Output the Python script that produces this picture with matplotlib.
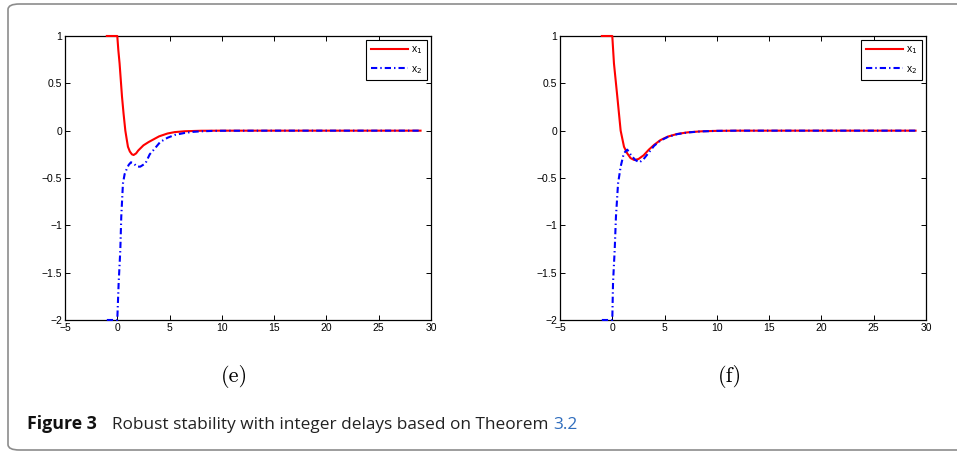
import matplotlib.pyplot as plt
from matplotlib.patches import FancyBboxPatch

plt.rcParams['font.family'] = ['Liberation Sans', 'DejaVu Sans']
plt.rcParams['lines.scale_dashes'] = False

# (e) 数据
t_e_x1 = [-1, 0, 0.1, 0.22, 0.45, 0.6, 0.77, 0.9, 1.02, 1.2, 1.4, 1.56, 1.8, 2.0, 2.5,
          3.0, 3.5, 4.0, 4.8, 5.5, 6.5, 8, 10, 15, 20, 25, 29]
e_x1 = [1, 1, 0.85, 0.71, 0.36, 0.18, 0.0, -0.09, -0.17, -0.22, -0.25, -0.257, -0.24, -0.21, -0.155,
        -0.12, -0.09, -0.06, -0.03, -0.015, -0.006, -0.001, 0, 0, 0, 0, 0]
t_e_x2 = [-1, 0, 0.13, 0.29, 0.38, 0.54, 0.7, 0.92, 1.1, 1.31, 1.6, 1.88, 2.2, 2.7,
          3.1, 3.5, 4.1, 4.8, 5.5, 6.4, 7.2, 8, 9, 10, 15, 20, 25, 29]
e_x2 = [-2, -2, -1.61, -1.26, -0.91, -0.56, -0.46, -0.40, -0.36, -0.334, -0.35, -0.38, -0.38, -0.345,
        -0.25, -0.2, -0.12, -0.075, -0.045, -0.025, -0.013, -0.007, -0.003, -0.001, 0, 0, 0, 0]

# (f) 数据
t_f_x1 = [-1, 0, 0.16, 0.48, 0.8, 1.12, 1.43, 1.75, 2.1, 2.5, 3.0, 3.5, 4.0, 4.6, 5.3,
          6.2, 7.2, 8.5, 10, 12, 15, 20, 25, 29]
f_x1 = [1, 1, 0.71, 0.36, 0.0, -0.17, -0.24, -0.29, -0.31, -0.30, -0.26, -0.2, -0.15, -0.1, -0.063,
        -0.035, -0.018, -0.007, -0.002, 0, 0, 0, 0, 0]
t_f_x2 = [-1, 0, 0.07, 0.23, 0.35, 0.55, 0.8, 1.1, 1.43, 1.8, 2.2, 2.6, 3.0, 3.5, 4.0, 4.6,
          5.3, 6.2, 7.2, 8.5, 10, 12, 15, 20, 25, 29]
f_x2 = [-2, -2, -1.61, -1.26, -0.91, -0.56, -0.38, -0.24, -0.2, -0.26, -0.31, -0.335, -0.3, -0.23, -0.16, -0.105,
        -0.067, -0.037, -0.019, -0.008, -0.002, 0, 0, 0, 0, 0]

xticks = [-5, 0, 5, 10, 15, 20, 25, 30]
yticks = [-2, -1.5, -1, -0.5, 0, 0.5, 1]
ytick_labels = ['\u22122', '\u22121.5', '\u22121', '\u22120.5', '0', '0.5', '1']
xtick_labels = ['\u22125', '0', '5', '10', '15', '20', '25', '30']

fig = plt.figure(figsize=(9.57, 4.54), dpi=100)

# 外框
border = FancyBboxPatch((8 / 957, 4 / 454), 1.2, 446 / 454,
                        boxstyle='round,pad=0,rounding_size=0.012',
                        transform=fig.transFigure, fill=False,
                        edgecolor='#8c8c8c', linewidth=1.2, clip_on=False)
fig.patches.append(border)

panels = [
    (65, (t_e_x1, e_x1, t_e_x2, e_x2), '(e)', 234),
    (560, (t_f_x1, f_x1, t_f_x2, f_x2), '(f)', 730),
]

for left, (t1, y1, t2, y2), tag, tag_x in panels:
    ax = fig.add_axes([left / 957, 134 / 454, 366 / 957, 284 / 454])
    ax.plot(t1, y1, color='red', lw=1.5, label=r'x$_1$', clip_on=False, zorder=3)
    ax.plot(t2, y2, color='blue', lw=1.5, linestyle=(0, (4.5, 2.2, 1, 2.2)), label=r'x$_2$',
            clip_on=False, zorder=3)
    ax.set_xlim(-5, 30)
    ax.set_ylim(-2, 1)
    ax.set_xticks(xticks)
    ax.set_xticklabels(xtick_labels)
    ax.set_yticks(yticks)
    ax.set_yticklabels(ytick_labels)
    ax.tick_params(direction='in', top=True, right=True, length=3.5, width=0.7,
                   labelsize=7.5, pad=2)
    for s in ax.spines.values():
        s.set_linewidth(0.9)
    leg = ax.legend(loc='upper right', fontsize=7.5, fancybox=False, edgecolor='black',
                    framealpha=1, handlelength=3.6, handletextpad=0.3, borderpad=0.45,
                    labelspacing=0.75, borderaxespad=0.35)
    leg.set_zorder(5)
    leg.get_frame().set_linewidth(0.8)
    fig.text(tag_x / 957, 1 - 377 / 454, tag, family='cmr10', fontsize=16,
             ha='center', va='center')

# 图注
y_cap = 1 - 429 / 454
fig.text(27 / 957, y_cap, 'Figure 3', family=['Open Sans', 'DejaVu Sans'],
         fontweight='bold', fontsize=12.8, va='baseline', color='#111111')
t2 = fig.text(112 / 957, y_cap, 'Robust stability with integer delays based on Theorem ',
              family=['Open Sans', 'DejaVu Sans'], fontsize=12.4, va='baseline', color='#222222')
fig.canvas.draw()
bb = t2.get_window_extent()
fig.text(bb.x1 / 957, y_cap, '3.2', family=['Open Sans', 'DejaVu Sans'], fontsize=12.4,
         va='baseline', color='#2f6dbd')

plt.savefig('out.png', dpi=100)
